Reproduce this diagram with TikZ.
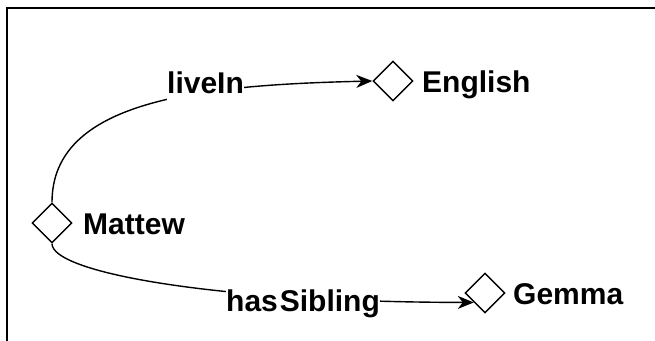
\documentclass[tikz,border=0pt]{standalone}
\usepackage{fontspec}
\setmainfont{Liberation Sans}
\usetikzlibrary{shapes.geometric,arrows.meta}
\begin{document}
\begin{tikzpicture}[x=1pt,y=-1pt,
  entity/.style={diamond,draw,line width=1.4pt,minimum width=40pt,minimum height=40pt,inner sep=0pt,fill=white},
  tag/.style={font=\fontsize{30}{36}\selectfont\bfseries,inner sep=0pt,anchor=base west},
  rel/.style={font=\fontsize{30}{36}\selectfont\bfseries,fill=white,inner xsep=0pt,inner ysep=0pt,
              text height=24pt,text depth=8pt,anchor=base west},
  link/.style={line width=1.4pt,-{Stealth[length=16pt,width=13pt,inset=5pt]}}]
\useasboundingbox (0,0) rectangle (655,340);
\clip (0,0) rectangle (655,340);
\fill[white] (0,0) rectangle (655,340);
% frame running off the right and bottom edges
\draw[line width=2.8pt] (7,360) -- (7,8) -- (680,8);

% entities
\node[entity] (matt) at (52,223) {};
\node[entity] (eng) at (393,81) {};
\node[entity] (gem) at (485,293) {};
\node[tag] (mattName) at (83,234) {Mattew};
\node[tag] (engName) at (422,92) {English};
\node[tag] (gemName) at (513,304) {Gemma};

% relations
\draw[link] (matt.north) .. controls (52,100) and (200,85) .. (eng.west);
\draw[link] (matt.south) .. controls (52,272) and (210,302) .. (gem.220);

% relation labels over the curves
\node[rel] (live) at (167,93) {liveIn};
\node[rel] (sib) at (226,311) {has\kern2pt Sibling};
\end{tikzpicture}
\end{document}
